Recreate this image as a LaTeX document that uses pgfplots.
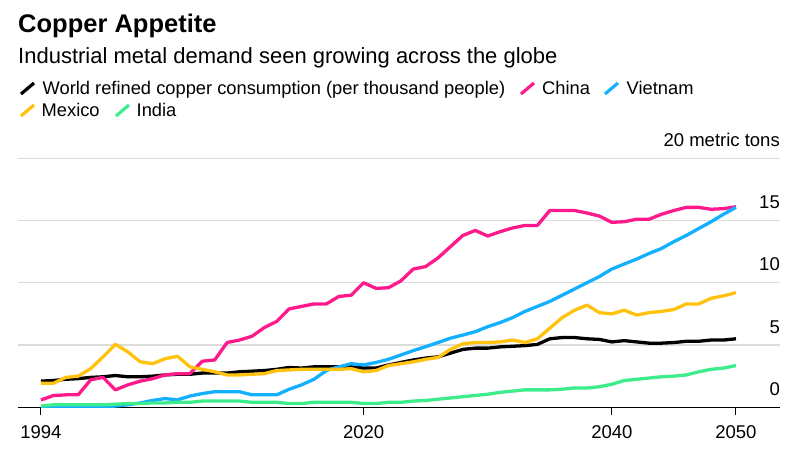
\documentclass[border=0pt]{standalone}
\usepackage{pgfplots}
\pgfplotsset{compat=1.18}
\usepackage{pgfplotstable}
\usepackage{fontspec}
\setmainfont{Liberation Sans}

\definecolor{cworld}{HTML}{000000}
\definecolor{cchina}{HTML}{FF1A8C}
\definecolor{cviet}{HTML}{12B0FF}
\definecolor{cmex}{HTML}{FFC20E}
\definecolor{cindia}{HTML}{3DED8C}
\definecolor{gridgray}{HTML}{DCDCDC}

% consumption per thousand people, metric tons
\pgfplotstableread{
year world china vietnam mexico india
1994 2.10 0.59 0.00 1.93 0.10
1995 2.15 0.94 0.00 1.93 0.20
1996 2.25 1.00 0.00 2.40 0.20
1997 2.30 1.00 0.00 2.50 0.20
1998 2.40 2.20 0.00 3.10 0.20
1999 2.45 2.40 0.05 4.05 0.20
2000 2.55 1.40 0.10 5.05 0.25
2001 2.45 1.80 0.20 4.45 0.30
2002 2.45 2.10 0.35 3.65 0.30
2003 2.50 2.30 0.55 3.50 0.35
2004 2.60 2.60 0.70 3.90 0.35
2005 2.65 2.70 0.60 4.10 0.40
2006 2.65 2.70 0.90 3.25 0.40
2007 2.75 3.70 1.10 3.05 0.50
2008 2.75 3.80 1.25 2.85 0.50
2009 2.75 5.20 1.25 2.60 0.50
2010 2.85 5.40 1.25 2.60 0.50
2011 2.90 5.70 1.00 2.65 0.40
2012 2.95 6.40 1.00 2.70 0.40
2013 3.05 6.90 1.00 2.95 0.40
2014 3.20 7.90 1.45 3.00 0.30
2015 3.15 8.10 1.80 3.05 0.30
2016 3.25 8.30 2.25 3.05 0.40
2017 3.25 8.30 2.95 3.05 0.40
2018 3.25 8.90 3.25 3.05 0.40
2019 3.25 9.00 3.50 3.10 0.40
2020 3.15 10.00 3.40 2.85 0.30
2021 3.15 9.55 3.60 2.95 0.30
2022 3.40 9.60 3.85 3.35 0.40
2023 3.60 10.15 4.20 3.50 0.40
2024 3.80 11.10 4.55 3.65 0.50
2025 3.95 11.30 4.87 3.85 0.55
2026 4.05 12.00 5.20 4.00 0.65
2027 4.35 12.90 5.55 4.65 0.75
2028 4.65 13.80 5.80 5.10 0.85
2029 4.75 14.20 6.07 5.20 0.95
2030 4.75 13.75 6.47 5.20 1.05
2031 4.85 14.10 6.80 5.25 1.20
2032 4.90 14.40 7.20 5.40 1.30
2033 4.95 14.60 7.70 5.20 1.40
2034 5.05 14.60 8.10 5.50 1.40
2035 5.50 15.80 8.50 6.35 1.40
2036 5.60 15.80 9.00 7.20 1.45
2037 5.60 15.80 9.50 7.80 1.55
2038 5.50 15.60 10.00 8.20 1.55
2039 5.45 15.35 10.50 7.60 1.65
2040 5.25 14.85 11.10 7.50 1.85
2041 5.35 14.90 11.50 7.80 2.15
2042 5.25 15.10 11.90 7.40 2.25
2043 5.15 15.10 12.35 7.60 2.35
2044 5.15 15.50 12.75 7.70 2.45
2045 5.20 15.80 13.30 7.85 2.50
2046 5.30 16.05 13.80 8.30 2.60
2047 5.30 16.05 14.35 8.30 2.85
2048 5.40 15.90 14.90 8.75 3.05
2049 5.40 15.95 15.50 8.95 3.15
2050 5.50 16.10 16.05 9.20 3.35
}\copper

\begin{document}
\begin{tikzpicture}
\path[use as bounding box] (0pt,0pt) rectangle (801pt,452pt);

% title block
\node[anchor=base west, inner sep=0pt, font=\fontsize{25.5}{30}\selectfont\bfseries] at (18pt,419pt) {Copper Appetite};
\node[anchor=base west, inner sep=0pt, font=\fontsize{22}{26}\selectfont] at (18pt,388pt) {Industrial metal demand seen growing across the globe};

% legend
\begin{scope}[line width=3.2pt]
\draw[cworld] (21pt,358pt) -- (34pt,369pt);
\draw[cchina] (521pt,358pt) -- (534pt,369pt);
\draw[cviet] (605pt,358pt) -- (618pt,369pt);
\draw[cmex] (21pt,336pt) -- (34pt,347pt);
\draw[cindia] (116pt,336pt) -- (129pt,347pt);
\end{scope}
\begin{scope}[every node/.style={anchor=base west, inner sep=0pt, font=\fontsize{18.3}{22}\selectfont}]
\node at (42.5pt,357pt) {World refined copper consumption (per thousand people)};
\node at (542pt,357pt) {China};
\node at (626.5pt,357pt) {Vietnam};
\node at (41.5pt,335pt) {Mexico};
\node at (136.5pt,335pt) {India};
\end{scope}

\begin{axis}[
  at={(18pt,44.7pt)}, anchor=south west,
  scale only axis, width=762pt, height=249.1pt,
  xmin=1992.15, xmax=2053.55, ymin=0, ymax=20,
  axis line style={draw=none},
  xtick={1994,2020,2040,2050}, xticklabels={1994,2020,2040,2050},
  xtick pos=bottom, xtick align=outside, major tick length=7.5pt,
  xtick style={black, line width=1pt},
  xticklabel style={anchor=north, inner sep=0pt, yshift=-11pt},
  ytick={5,10,15,20}, yticklabels={5,10,15,20 metric tons},
  ytick style={draw=none},
  yticklabel pos=right,
  yticklabel style={anchor=base east, inner sep=0pt, yshift=12pt},
  extra y ticks={0}, extra y tick labels={0},
  extra y tick style={grid style={black, line width=1.3pt}},
  ymajorgrids, grid style={gridgray, line width=1.3pt},
  ticklabel style={font=\fontsize{18.5}{22}\selectfont},
  every axis plot/.append style={line width=3.3pt, line join=round, no markers},
]
\addplot[cworld] table[x=year, y=world] {\copper};
\addplot[cchina] table[x=year, y=china] {\copper};
\addplot[cviet] table[x=year, y=vietnam] {\copper};
\addplot[cmex] table[x=year, y=mexico] {\copper};
\addplot[cindia] table[x=year, y=india] {\copper};
\end{axis}
\end{tikzpicture}
\end{document}
